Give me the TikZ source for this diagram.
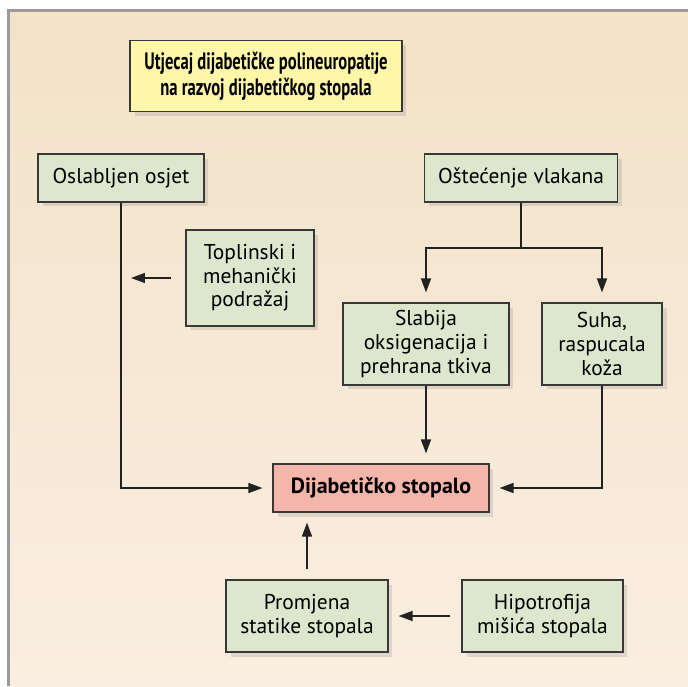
\documentclass[tikz,border=0pt]{standalone}
\usepackage{fontspec}
\setmainfont{PT Sans}
\newfontfamily\titlefont[FakeStretch=0.7]{PT Sans}
\usetikzlibrary{arrows.meta,shadows}
\definecolor{panelTop}{HTML}{F2E2C8}
\definecolor{panelBottom}{HTML}{FAEEE0}
\definecolor{frameGray}{HTML}{9A9A9A}
\definecolor{boxGreen}{HTML}{DCE7CE}
\definecolor{boxYellow}{HTML}{FEF6A9}
\definecolor{boxRed}{HTML}{F4B5AA}
\definecolor{lineDark}{HTML}{222222}

\begin{document}
\begin{tikzpicture}
[x=0.02cm,y=-0.02cm,
  boxDecorate/.style={shape=rectangle,draw=lineDark!90,line width=0.7pt,
    fill=boxGreen,align=center,inner sep=0pt,font=\fontsize{12.2}{13.4}\selectfont,
    drop shadow={opacity=0.22,shadow xshift=0.09cm,shadow yshift=-0.09cm}},
  lineDecorate/.style={draw=lineDark,line width=0.85pt},
  arrowDecorate/.style={lineDecorate,-{Triangle[length=0.28cm,width=0.2cm]},shorten >=0.2cm}]
%% panel
\useasboundingbox (0,0) rectangle (688,686);
\fill[white] (0,0) rectangle (688,686);
\shade[top color=panelTop,bottom color=panelBottom] (8,10) rectangle (688,686);
\draw[frameGray,line width=1.7pt] (8.5,686) -- (8.5,10.5) -- (688,10.5);
%% nodes
\node (title) at (266,76) [boxDecorate,fill=boxYellow,minimum width=5.44cm,minimum height=1.42cm,
  font=\titlefont\bfseries\fontsize{13.5}{14.8}\selectfont]
  {Utjecaj dijabetičke polineuropatije\\na razvoj dijabetičkog stopala};
\node (osjet) at (121,178) [boxDecorate,minimum width=3.32cm,minimum height=0.96cm] {Oslabljen osjet};
\node (vlakna) at (521,178) [boxDecorate,minimum width=3.86cm,minimum height=0.96cm] {Oštećenje vlakana};
\node (podrazaj) at (250,278) [boxDecorate,minimum width=2.56cm,minimum height=1.92cm] {Toplinski i\\mehanički\\podražaj};
\node (tkiva) at (426,344) [boxDecorate,minimum width=3.32cm,minimum height=1.64cm] {Slabija\\oksigenacija i\\prehrana tkiva};
\node (koza) at (602,344) [boxDecorate,minimum width=2.4cm,minimum height=1.64cm] {Suha,\\raspucala\\koža};
\node (stopalo) at (381,488) [boxDecorate,fill=boxRed,minimum width=4.32cm,minimum height=0.96cm,
  font=\bfseries\fontsize{12.5}{14}\selectfont] {Dijabetičko stopalo};
\node (statika) at (307,616) [boxDecorate,minimum width=3.24cm,minimum height=1.44cm] {Promjena\\statike stopala};
\node (misici) at (542.5,616) [boxDecorate,minimum width=3.22cm,minimum height=1.44cm] {Hipotrofija\\mišića stopala};
\coordinate (split) at (521,248);
%% edges or lines
\draw[arrowDecorate] (osjet.south) |- (stopalo.west);
\draw[arrowDecorate,shorten <=0.28cm] (podrazaj.west) -- (podrazaj.west -| osjet.south);
\draw[lineDecorate] (vlakna.south) -- (split);
\draw[arrowDecorate] (split) -| (tkiva.north);
\draw[arrowDecorate] (split) -| (koza.north);
\draw[arrowDecorate] (tkiva.south) -- (stopalo.north -| tkiva.south);
\draw[arrowDecorate] (koza.south) |- (stopalo.east);
\draw[arrowDecorate,shorten <=0.2cm] (statika.north) -- (stopalo.south -| statika.north);
\draw[arrowDecorate,shorten <=0.22cm] (misici.west) -- (statika.east);
\end{tikzpicture}
\end{document}
